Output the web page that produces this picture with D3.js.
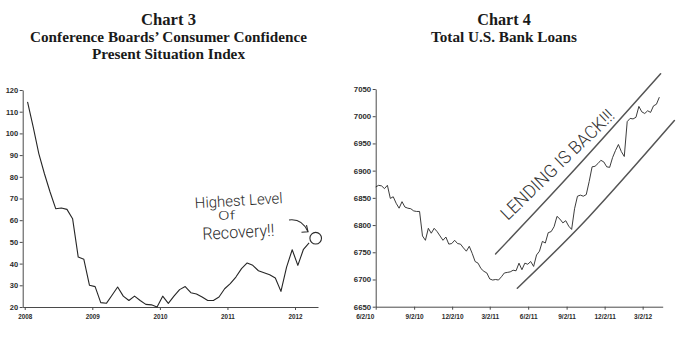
<!DOCTYPE html>
<html><head><meta charset="utf-8">
<script src="https://cdn.jsdelivr.net/npm/d3@7"></script>
<style>
html,body{margin:0;padding:0;background:#fff;}
svg{display:block;}
.title{font-family:"Liberation Serif","Times New Roman",serif;font-weight:bold;fill:#1a1a1a;text-anchor:middle;}
.axis text{font-family:"Liberation Sans",Arial,sans-serif;font-weight:bold;fill:#2b2b2b;}
.axis path,.axis line{stroke:#4a4a4a;}
.hand{font-family:"Roboto","DejaVu Sans",sans-serif;font-weight:300;fill:#2a2a2a;}
</style></head><body>
<svg id="c" width="690" height="341"></svg>
<script>
// ---------- Chart 3 data ----------
const confTitle = ["Chart 3", "Conference Boards\u2019 Consumer Confidence", "Present Situation Index"];
const confStartYear = 2008; // monthly values from Jan 2008
const confValues = [114.5,103,90.7,81.4,73,65.3,65.6,65,60.7,43,42,30,
  29.4,22,21.7,25.4,29.2,25,23,25,23,21.2,21,20,
  25,21.7,25,28,29.4,26.6,26,24.6,23,23,24.6,28.4,
  30.8,33.8,37.7,40.3,39.2,36.7,35.8,34.9,33.4,27.2,38.4,46.4,
  39.2,46.6,49.6];
const confYearTicks = [2008, 2009, 2010, 2011, 2012];
const confValueTicks = [20, 30, 40, 50, 60, 70, 80, 90, 100, 110, 120];
const confNote = ["Highest Level", "Of", "Recovery!!"];

// ---------- Chart 4 data ----------
const loanTitle = ["Chart 4", "Total U.S. Bank Loans"];
const loanStart = "2010-06-02"; // weekly values
const loanValues = [6870,6873,6872,6867,6873,6849,6852,6840,6831,6843,
  6833,6831,6830,6826,6825,6825,6780,6772,6794,6785,
  6794,6788,6780,6772,6778,6765,6766,6772,6766,6765,
  6758,6752,6761,6748,6733,6730,6720,6715,6712,6701,
  6699,6700,6699,6705,6712,6713,6714,6717,6716,6730,
  6718,6730,6728,6733,6724,6745,6752,6770,6767,6786,
  6788,6797,6816,6811,6804,6808,6798,6792,6830,6853,
  6855,6853,6856,6880,6907,6908,6913,6919,6916,6907,
  6906,6924,6937,6948,6935,6926,6990,6996,6995,6998,
  7018,7008,7005,7010,7007,7019,7022,7035];
const loanTickDates = ["2010-06-02","2010-09-02","2010-12-02","2011-03-02","2011-06-02","2011-09-02","2011-12-02","2012-03-02"];
const loanTickLabels = ["6/2/10","9/2/10","12/2/10","3/2/11","6/2/11","9/2/11","12/2/11","3/2/12"];
const loanValueTicks = [6650,6700,6750,6800,6850,6900,6950,7000,7050];
const loanNote = "LENDING IS BACK!!!";
const loanUpperTrend = [["2011-03-16",6747],["2011-09-14",6896],["2012-04-14",7078]];
const loanLowerTrend = [["2011-05-07",6684],["2011-10-24",6814],["2012-05-17",6992]];

const svg = d3.select("#c");
const parse = d3.utcParse("%Y-%m-%d");

// ===== Chart 3 =====
const xL = d3.scaleLinear().domain([2007.97, 2012.34]).range([22.7, 318]);
const yL = d3.scaleLinear().domain([20, 120]).range([307, 90]);

const titleRows = [[0,24.8,16.5,55],[1,41.6,14.3,277],[2,58.8,14.3,153]];
titleRows.forEach(([i,y,fs,len])=>{
  svg.append("text").attr("class","title").attr("x",168.5).attr("y",y)
    .style("font-size",fs+"px").attr("textLength",len).attr("lengthAdjust","spacingAndGlyphs")
    .text(confTitle[i]);
});

svg.append("g").attr("class","axis").attr("transform",`translate(0,${yL(20)})`)
  .call(d3.axisBottom(xL).tickValues(confYearTicks).tickFormat(d=>String(d))
    .tickSize(3).tickSizeOuter(0).tickPadding(5))
  .selectAll("text").style("font-size","6.3px");
svg.append("g").attr("class","axis").attr("transform",`translate(${xL.range()[0]},0)`)
  .call(d3.axisLeft(yL).tickValues(confValueTicks).tickFormat(d3.format("d"))
    .tickSize(3).tickSizeOuter(0).tickPadding(1.5))
  .selectAll("text").style("font-size","7.5px");

const confData = confValues.map((v,m)=>({x: confStartYear + (m+0.5)/12, v}));
svg.append("path").datum(confData)
  .attr("fill","none").attr("stroke","#262626").attr("stroke-width",1.1)
  .attr("stroke-linejoin","round")
  .attr("d", d3.line().x(d=>xL(d.x)).y(d=>yL(d.v)));

// handwritten note (Chart 3)
function handText(g, str, px, py, rot, fs, len){
  return g.append("text").attr("class","hand")
    .attr("transform",`translate(${px},${py}) rotate(${rot})`)
    .attr("text-anchor","middle").style("font-size",fs+"px")
    .attr("textLength",len).attr("lengthAdjust","spacingAndGlyphs").text(str);
}
const nL = svg.append("g");
handText(nL, confNote[0], xL(2011.171), yL(66.7), -3.3, 15, 88);
handText(nL, confNote[1], xL(2010.99), yL(60.3), -2, 12, 17);
handText(nL, confNote[2], xL(2011.165), yL(51.9), -3, 17, 72);
// arrow
const aS=[xL(2011.911),yL(60.1)], aC=[xL(2012.104),yL(60.9)], aE=[xL(2012.192),yL(54.7)];
nL.append("path").attr("fill","none").attr("stroke","#2a2a2a").attr("stroke-width",1.1)
  .attr("d",`M${aS}Q${aC} ${aE}`);
nL.append("path").attr("fill","none").attr("stroke","#2a2a2a").attr("stroke-width",1.1)
  .attr("d",`M${aE[0]-1.5},${aE[1]-6.5}L${aE}L${aE[0]-6.5},${aE[1]+0.5}`);
nL.append("circle").attr("cx",xL(2012.306)).attr("cy",yL(51.7)).attr("r",5.8)
  .attr("fill","none").attr("stroke","#2a2a2a").attr("stroke-width",1.1);

// ===== Chart 4 =====
const xR = d3.scaleUtc().domain([parse("2010-06-02"), parse("2012-04-19")]).range([375.7, 662.7]);
const yR = d3.scaleLinear().domain([6650, 7050]).range([306.7, 89]);

[[0,24.8,16.5,53.5],[1,41.6,14.3,146]].forEach(([i,y,fs,len])=>{
  svg.append("text").attr("class","title").attr("x",504).attr("y",y)
    .style("font-size",fs+"px").attr("textLength",len).attr("lengthAdjust","spacingAndGlyphs")
    .text(loanTitle[i]);
});

const tickDates = loanTickDates.map(parse);
const gx = svg.append("g").attr("class","axis").attr("transform",`translate(0,${yR(6650)})`)
  .call(d3.axisBottom(xR).tickValues(tickDates)
    .tickFormat((d,i)=>loanTickLabels[i]).tickSize(3).tickSizeOuter(0).tickPadding(4.5));
gx.selectAll("text").style("font-size","6.5px");
gx.selectAll("text").filter((d,i)=>i===0).attr("dx",-11);
svg.append("g").attr("class","axis").attr("transform",`translate(${xR.range()[0]},0)`)
  .call(d3.axisLeft(yR).tickValues(loanValueTicks).tickFormat(d3.format("d"))
    .tickSize(3).tickSizeOuter(0).tickPadding(1.5))
  .selectAll("text").style("font-size","7.8px");

const start = parse(loanStart);
const loanData = loanValues.map((v,i)=>({d: d3.utcDay.offset(start, 7*i), v}));
svg.append("path").datum(loanData)
  .attr("fill","none").attr("stroke","#262626").attr("stroke-width",0.9)
  .attr("stroke-linejoin","round")
  .attr("d", d3.line().x(d=>xR(d.d)).y(d=>yR(d.v)));

// handwritten trend lines + note
const trendLine = d3.line().x(d=>xR(parse(d[0]))).y(d=>yR(d[1])).curve(d3.curveNatural);
[loanUpperTrend, loanLowerTrend].forEach(t=>{
  svg.append("path").datum(t).attr("fill","none").attr("stroke","#555")
    .attr("stroke-width",1.5).attr("stroke-linecap","round").attr("d",trendLine);
});
handText(svg, loanNote, xR(parse("2011-08-21")), yR(6903), -44, 18, 150)
  .style("fill","#333");
</script>
</body></html>
